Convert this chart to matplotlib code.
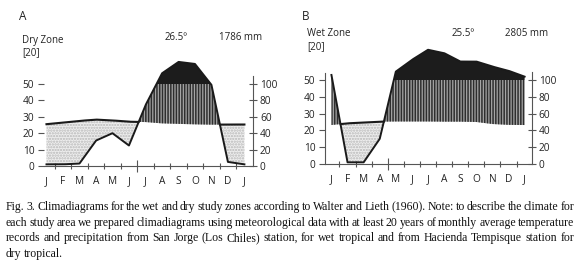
import matplotlib
matplotlib.use('Agg')
import matplotlib.pyplot as plt
import numpy as np

plt.rcParams['font.family'] = ['Open Sans', 'DejaVu Sans']
plt.rcParams['hatch.linewidth'] = 1.1

# Data (13 points, Jan..Jan)
months = ['J', 'F', 'M', 'A', 'M', 'J', 'J', 'A', 'S', 'O', 'N', 'D', 'J']

dry_temp = [25.5, 26.5, 27.5, 28.3, 27.8, 27.0, 26.8, 26.0, 25.7, 25.4, 25.2, 25.3, 25.3]
dry_prec = [2, 2, 3, 31, 40, 25, 74, 230, 370, 345, 99, 5, 2]
dry_wet_start = 5.5

wet_temp = [23.2, 24.2, 24.7, 25.2, 25.3, 25.3, 25.3, 25.2, 25.2, 25.0, 23.8, 23.3, 23.2]
wet_prec = [160, 2, 2, 30, 200, 340, 460, 420, 320, 320, 260, 210, 140]
wet_wet_start = 3.5

temp_ticks = [0, 10, 20, 30, 40, 50]
prec_ticks = [0, 20, 40, 60, 80, 100]

caption = [
    "Fig. 3. Climadiagrams for the wet and dry study zones according to Walter and Lieth (1960). Note: to describe the climate for",
    "each study area we prepared climadiagrams using meteorological data with at least 20 years of monthly average temperature",
    "records and precipitation from San Jorge (Los Chiles) station, for wet tropical and from Hacienda Tempisque station for",
    "dry tropical.",
]

W, H = 580, 261
fig = plt.figure(figsize=(W / 100, H / 100), dpi=100)
fig.patch.set_facecolor('white')

spine_col = '#555555'
txt_col = '#222222'


def prec_scale(p):
    # Walter-Lieth: 20 mm = 10 degC up to 100 mm, then 200 mm = 10 degC
    p = np.asarray(p, dtype=float)
    return np.where(p <= 100, p / 2.0, 50 + (p - 100) / 20.0)


def climadiagram(rect, temp, prec, wet_start, xlim, ylim, left_spine):
    ax = fig.add_axes(rect)
    x = np.arange(len(months))
    xf = np.linspace(0, len(months) - 1, 1201)
    tf = np.interp(xf, x, temp)
    pf = np.interp(xf, x, prec_scale(prec))

    # dry period (stippled)
    ax.fill_between(xf, pf, tf, where=pf < tf, interpolate=True,
                    facecolor='#eeeeee', edgecolor='#b8b8b8', hatch='......',
                    linewidth=0, zorder=1)
    # humid period (vertical lines)
    ax.fill_between(xf, tf, np.minimum(pf, 50), where=pf > tf, interpolate=True,
                    facecolor='#a6a6a6', edgecolor='#2e2e2e', hatch='||||||',
                    linewidth=0, zorder=1)
    # per-humid period above 100 mm (black)
    ax.fill_between(xf, 50, pf, where=pf > 50, interpolate=True,
                    facecolor='#1c1c1c', linewidth=0, zorder=2)

    ax.plot(xf, np.where(pf <= tf + 0.05, tf, np.nan), color='#1a1a1a', lw=1.5, zorder=3)
    ax.plot(xf, pf, color='#1a1a1a', lw=1.4, zorder=3)

    ax.set_xlim(*xlim)
    ax.set_ylim(*ylim)
    ax.set_facecolor('none')

    ax.spines['top'].set_visible(False)
    ax.spines['right'].set_visible(False)
    ax.spines['left'].set_visible(left_spine)
    ax.spines['left'].set_bounds(0, 54)
    for s in ['left', 'bottom']:
        ax.spines[s].set_color(spine_col)
        ax.spines[s].set_linewidth(0.8)

    ax.set_yticks(temp_ticks)
    ax.tick_params(axis='y', direction='out', length=4, width=0.8, color=spine_col,
                   labelsize=7.3, pad=3, labelcolor=txt_col)

    ax.set_xticks(x)
    ax.set_xticklabels(months)
    ax.tick_params(axis='x', which='major', length=0, labelsize=7.3, pad=7,
                   labelcolor=txt_col)
    ax.set_xticks(x[:-1] + 0.5, minor=True)
    ax.tick_params(axis='x', which='minor', direction='inout', length=5, width=0.8,
                   color=spine_col)
    for pos, t in zip(x[:-1] + 0.5, ax.xaxis.get_minor_ticks()):
        if pos == wet_start:
            t.tick1line.set_markersize(9)

    ax2 = ax.twinx()
    ax2.set_ylim(ylim[0] * 2, ylim[1] * 2)
    for s in ['top', 'left', 'bottom']:
        ax2.spines[s].set_visible(False)
    ax2.spines['right'].set_bounds(0, 110)
    ax2.spines['right'].set_color(spine_col)
    ax2.spines['right'].set_linewidth(0.8)
    ax2.set_yticks(prec_ticks)
    ax2.tick_params(axis='y', direction='inout', length=6, width=0.8, color=spine_col,
                    labelsize=7.3, pad=2, labelcolor=txt_col)
    return ax


climadiagram([44 / W, (H - 166) / H, 209 / W, 111.5 / H], dry_temp, dry_prec,
             dry_wet_start, (-0.15, 12.52), (0, 68), False)
climadiagram([325 / W, (H - 164) / H, 206.7 / W, 117.6 / H], wet_temp, wet_prec,
             wet_wet_start, (-0.4, 12.44), (0, 70), True)


def ftext(x, y, s, **kw):
    kw.setdefault('color', txt_col)
    kw.setdefault('va', 'center')
    return fig.text(x / W, 1 - y / H, s, **kw)


ftext(19, 16, 'A', fontsize=8.5)
ftext(22, 40, 'Dry Zone', fontsize=7)
ftext(22, 53, '[20]', fontsize=7)
ftext(176, 38, '26.5º', fontsize=7, ha='center')
ftext(241, 38, '1786 mm', fontsize=7, ha='center')

ftext(302, 16, 'B', fontsize=8.5)
ftext(307, 33.5, 'Wet Zone', fontsize=7)
ftext(307, 47, '[20]', fontsize=7)
ftext(463, 33.5, '25.5º', fontsize=7, ha='center')
ftext(527, 33.5, '2805 mm', fontsize=7, ha='center')

# justified caption in serif, word by word on a common baseline
renderer = fig.canvas.get_renderer()
cap_x0, cap_x1 = 6, 574
for i, line in enumerate(caption):
    y = 210 + i * 15.6
    words = line.split()
    texts = [ftext(0, y, w, fontsize=8.5, family='Liberation Serif', color='#111111',
                   va='baseline') for w in words]
    widths = [t.get_window_extent(renderer).width for t in texts]
    if i < len(caption) - 1:
        gap = (cap_x1 - cap_x0 - sum(widths)) / (len(words) - 1)
    else:
        gap = 2.4
    xpos = cap_x0
    for t, w in zip(texts, widths):
        t.set_x(xpos / W)
        xpos += w + gap

fig.savefig('out.png', dpi=100, facecolor='white')
